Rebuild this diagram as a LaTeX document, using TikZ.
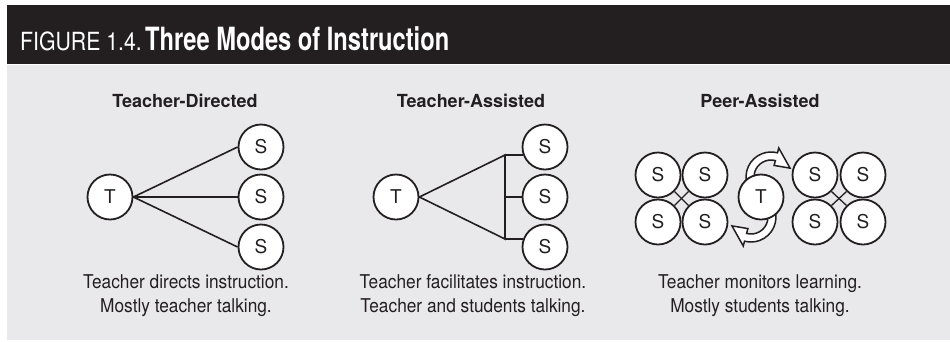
\documentclass[tikz,border=0pt]{standalone}
\usepackage{fontspec}
\setmainfont{TeX Gyre Heros}
\newfontfamily\figlabelfont[FakeStretch=0.85]{TeX Gyre Heros}
\newfontfamily\figtitlefont[FakeStretch=0.74]{TeX Gyre Heros}
\newfontfamily\notefont[FakeStretch=0.91]{TeX Gyre Heros}
\usetikzlibrary{calc}

\definecolor{inkblack}{HTML}{231F20}
\definecolor{panelgray}{HTML}{E9E9EB}

\tikzset{
  pupil/.style={circle, draw=inkblack, fill=white, line width=1.8pt, minimum size=45pt,
    inner sep=0pt, text=inkblack, font=\fontsize{19}{19}\selectfont},
  link/.style={draw=inkblack, line width=1.6pt},
  modetitle/.style={anchor=base, inner sep=0pt, text=inkblack, font=\bfseries\fontsize{18}{18}\selectfont},
  modenote/.style={anchor=north, align=center, inner sep=0pt, text=inkblack, font=\notefont\fontsize{19}{24.5}\selectfont},
  turnarrow/.style={draw=inkblack, fill=white, line width=1.5pt, line join=miter}
}

\begin{document}
\begin{tikzpicture}[x=1pt, y=-1pt]
	\useasboundingbox (0,0) rectangle (950,341);
	% header bar and panel
	\fill[inkblack] (7,5) rectangle (950,64);
	\fill[panelgray] (7,65) rectangle (950,340);
	\node[anchor=base west, inner sep=0pt, text=white, font=\figlabelfont\fontsize{25}{25}\selectfont] (figlabel) at (20,50) {FIGURE 1.4.};
	\node[anchor=base west, inner sep=0pt, text=white, font=\figtitlefont\bfseries\fontsize{32}{32}\selectfont] (figtitle) at ([xshift=3pt]figlabel.base east) {Three Modes of Instruction};

	% teacher-directed
	\node[modetitle] (title1) at (185,107) {Teacher-Directed};
	\node[pupil] (T1) at (110,197) {T};
	\node[pupil] (S1a) at (261,147) {S};
	\node[pupil] (S1b) at (261,197) {S};
	\node[pupil] (S1c) at (261,247) {S};
	\foreach \s in {S1a,S1b,S1c}
		\draw[link] (T1.east) -- (\s.west);
	\node[modenote] (note1) at (186,274) {Teacher directs instruction.\\Mostly teacher talking.};

	% teacher-assisted
	\node[modetitle] (title2) at (471,107) {Teacher-Assisted};
	\node[pupil] (T2) at (396,197) {T};
	\node[pupil] (S2a) at (545,147) {S};
	\node[pupil] (S2b) at (545,197) {S};
	\node[pupil] (S2c) at (545,247) {S};
	\path (S2a.200) ++(-18,0) coordinate (J1);
	\path (S2c.160) ++(-18,0) coordinate (J2);
	\draw[link] (T2.east) -- (J1) -- (J2) -- cycle;
	\draw[link] (J1) -- (S2a.200) (S2b.west -| J1) -- (S2b.west) (J2) -- (S2c.160);
	\node[modenote] (note2) at (473,274) {Teacher facilitates instruction.\\Teacher and students talking.};

	% peer-assisted
	\node[modetitle] (title3) at (760,107) {Peer-Assisted};
	\foreach \n/\x/\y in {PL1/658/175, PL2/705/175, PL3/658/222, PL4/705/222,
	                      PR1/815/175, PR2/863/175, PR3/815/222, PR4/863/222}
		\node[pupil] (\n) at (\x,\y) {S};
	\foreach \g in {PL,PR}{
		\draw[link, line width=1.3pt] (\g1.south east) -- (\g4.north west);
		\draw[link, line width=1.3pt] (\g2.south west) -- (\g3.north east);
	}
	% turning arrows round the teacher
	\coordinate (Tc) at (761,197);
	\coordinate (P1) at ($(Tc)+(10,-20)$);
	\coordinate (P2) at ($(Tc)+(-10,20)$);
	\draw[turnarrow] ($(P1)+(-200:25)$) arc[start angle=-200, end angle=-75, radius=25]
		-- ($(P1)+(-75:30)$) -- ($(P1)+(-25:21)$) -- ($(P1)+(-75:12)$) -- ($(P1)+(-75:17)$)
		arc[start angle=-75, end angle=-200, radius=17] -- cycle;
	\draw[turnarrow] ($(P2)+(-20:25)$) arc[start angle=-20, end angle=105, radius=25]
		-- ($(P2)+(105:30)$) -- ($(P2)+(155:21)$) -- ($(P2)+(105:12)$) -- ($(P2)+(105:17)$)
		arc[start angle=105, end angle=-20, radius=17] -- cycle;
	\node[pupil] (T3) at (Tc) {T};
	\node[modenote] (note3) at (760,274) {Teacher monitors learning.\\Mostly students talking.};
\end{tikzpicture}
\end{document}
